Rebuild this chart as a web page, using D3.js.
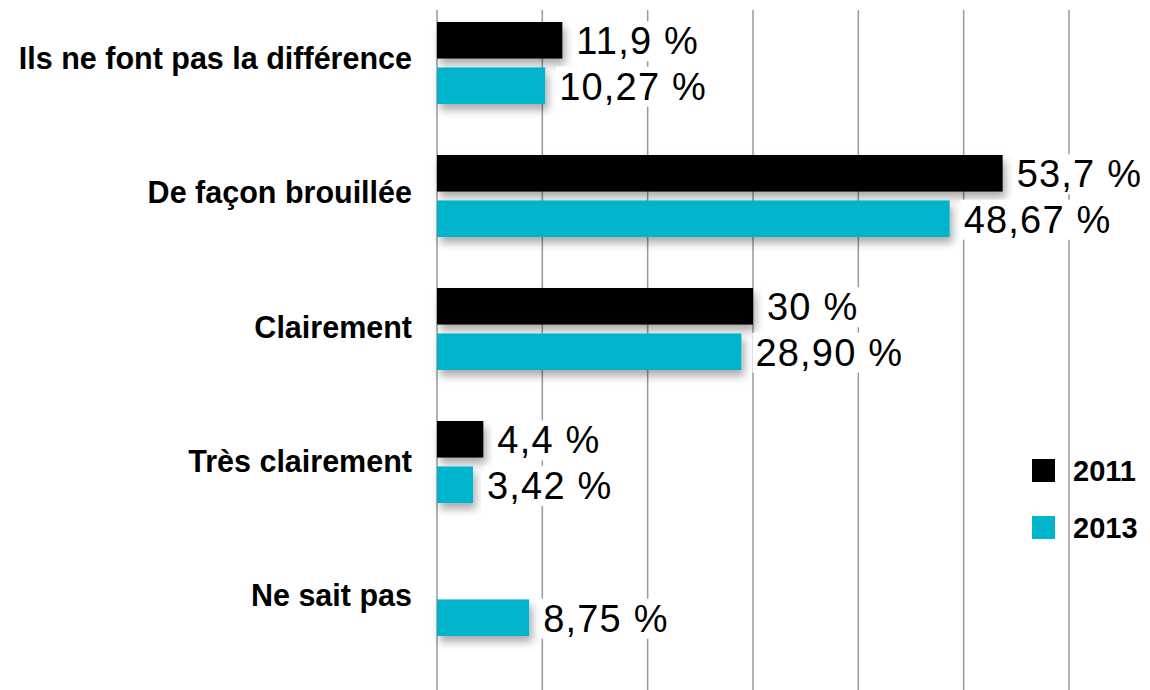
<!DOCTYPE html>
<html>
<head>
<meta charset="utf-8">
<script src="https://cdn.jsdelivr.net/npm/d3@7"></script>
<style>
  html, body { margin: 0; padding: 0; background: #fff; }
  svg { display: block; }
</style>
</head>
<body>
<svg id="chart" width="1150" height="690"></svg>
<script>
const categories = ["Ils ne font pas la différence", "De façon brouillée", "Clairement", "Très clairement", "Ne sait pas"];
const seriesNames = ["2011", "2013"];
const values2011 = [11.9, 53.7, 30, 4.4, null];
const values2013 = [10.27, 48.67, 28.90, 3.42, 8.75];
const labels2011 = ["11,9 %", "53,7 %", "30 %", "4,4 %", null];
const labels2013 = ["10,27 %", "48,67 %", "28,90 %", "3,42 %", "8,75 %"];
const gridTicks = [0, 10, 20, 30, 40, 50, 60];
const colors = ["#000000", "#00b5cb"];

const svg = d3.select("#chart");
const FONT = "'Liberation Sans', Arial, Helvetica, sans-serif";

const defs = svg.append("defs");
const f = defs.append("filter").attr("id", "shadow")
  .attr("x", "-20%").attr("y", "-40%").attr("width", "140%").attr("height", "200%");
f.append("feDropShadow").attr("dx", 3).attr("dy", 6).attr("stdDeviation", 4)
  .attr("flood-color", "#000").attr("flood-opacity", 0.33);

const x = d3.scaleLinear().domain([0, 60]).range([437, 1069]);
const y = d3.scaleBand().domain(categories).range([-3.5, 661.5]).padding(0);
const inner = d3.scaleBand().domain(seriesNames).range([-41, 41]).paddingInner(8 / 82 * 2).paddingOuter(0);
const labelY = d3.scalePoint().domain(categories).range([69, 606]);

// gridlines
svg.append("g").selectAll("line").data(gridTicks).join("line")
  .attr("x1", d => x(d)).attr("x2", d => x(d))
  .attr("y1", 10).attr("y2", 690)
  .attr("stroke", "#9a9a9a").attr("stroke-width", 1.5);

const data = [];
categories.forEach((c, i) => {
  [values2011, values2013].forEach((arr, s) => {
    const v = arr[i];
    if (v != null) {
      data.push({ cat: c, series: seriesNames[s], value: v,
        label: (s === 0 ? labels2011 : labels2013)[i], color: colors[s] });
    }
  });
});

const yc = c => y(c) + y.bandwidth() / 2;

// bars
svg.append("g").selectAll("rect").data(data).join("rect")
  .attr("x", x(0))
  .attr("y", d => yc(d.cat) + inner(d.series))
  .attr("width", d => x(d.value) - x(0))
  .attr("height", inner.bandwidth())
  .attr("fill", d => d.color)
  .attr("filter", "url(#shadow)");

// value labels with white background
const lg = svg.append("g");
data.forEach(d => {
  const cy = yc(d.cat) + inner(d.series) + inner.bandwidth() / 2;
  const g = lg.append("g");
  const bg = g.append("rect").attr("fill", "#fff");
  const t = g.append("text")
    .attr("x", x(d.value) + 14)
    .attr("y", cy + 14)
    .attr("font-family", FONT)
    .attr("font-size", 38)
    .attr("letter-spacing", 1.2)
    .attr("fill", "#000")
    .text(d.label);
  const b = t.node().getBBox();
  bg.attr("x", b.x - 3).attr("y", b.y + 1).attr("width", b.width + 6).attr("height", b.height - 2);
});

// category labels
svg.append("g").selectAll("text").data(categories).join("text")
  .attr("x", 412)
  .attr("y", d => labelY(d))
  .attr("text-anchor", "end")
  .attr("font-family", FONT)
  .attr("font-weight", "bold")
  .attr("font-size", 30.5)
  .attr("fill", "#000")
  .text(d => d);

// legend
const legend = svg.append("g");
const legendY = d3.scaleOrdinal().domain(seriesNames).range([459, 516]);
seriesNames.forEach((s, i) => {
  legend.append("rect").attr("x", 1032).attr("y", legendY(s)).attr("width", 23).attr("height", 23)
    .attr("fill", colors[i]);
  legend.append("text").attr("x", 1073).attr("y", legendY(s) + 22)
    .attr("font-family", FONT).attr("font-weight", "bold").attr("font-size", 29)
    .attr("fill", "#000").text(s);
});
</script>
</body>
</html>
